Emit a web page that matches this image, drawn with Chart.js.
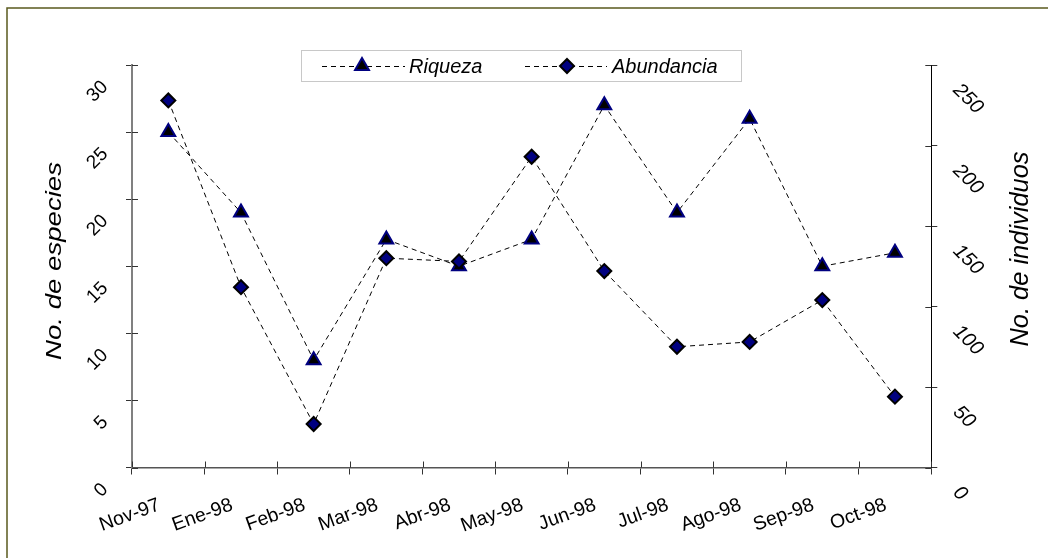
<!DOCTYPE html>
<html>
<head>
<meta charset="utf-8">
<title>Riqueza y abundancia</title>
<script src="https://cdn.jsdelivr.net/npm/chart.js@4/dist/chart.umd.min.js"></script>
<style>
  html, body { margin: 0; padding: 0; background: #fff; }
  canvas { display: block; }
</style>
</head>
<body>
<canvas id="miGrafica" width="1048" height="558"></canvas>
<script>
"use strict";

// datos
const categorias = ['Nov-97', 'Ene-98', 'Feb-98', 'Mar-98', 'Abr-98', 'May-98', 'Jun-98', 'Jul-98', 'Ago-98', 'Sep-98', 'Oct-98'];
const riqueza = [25, 19, 8, 17, 15, 17, 27, 19, 26, 15, 16];
const abundancia = [228, 112, 27, 130, 128, 193, 122, 75, 78, 104, 44];
const ticksEspecies = [0, 5, 10, 15, 20, 25, 30];
const ticksIndividuos = [0, 50, 100, 150, 200, 250];

const fuente = "'Liberation Sans', Arial, sans-serif";
Chart.defaults.font.family = fuente;
Chart.defaults.color = '#000';

// dibuja un marcador igual que Chart.js (triangulo o rombo)
function marcador(ctx, estilo, x, y, r) {
    ctx.beginPath();
    if (estilo === 'triangle') {
        let rad = 0;
        ctx.moveTo(x + Math.sin(rad) * r, y - Math.cos(rad) * r);
        rad += 2 * Math.PI / 3;
        ctx.lineTo(x + Math.sin(rad) * r, y - Math.cos(rad) * r);
        rad += 2 * Math.PI / 3;
        ctx.lineTo(x + Math.sin(rad) * r, y - Math.cos(rad) * r);
    } else {
        ctx.moveTo(x, y - r);
        ctx.lineTo(x + r, y);
        ctx.lineTo(x, y + r);
        ctx.lineTo(x - r, y);
    }
    ctx.closePath();
    ctx.fill();
    ctx.stroke();
}

// texto rotado y estirado a lo largo (titulos de los ejes)
function tituloVertical(ctx, texto, cx, cy, tam, largo) {
    ctx.save();
    ctx.font = 'italic ' + tam + 'px ' + fuente;
    const w = ctx.measureText(texto).width;
    ctx.translate(cx, cy);
    ctx.rotate(-Math.PI / 2);
    ctx.scale(largo / w, 1);
    ctx.textAlign = 'center';
    ctx.textBaseline = 'middle';
    ctx.fillStyle = '#000';
    ctx.fillText(texto, 0, 0);
    ctx.restore();
}

const extras = {
    id: 'extras',
    beforeDraw(chart) {
        const ctx = chart.ctx;
        ctx.save();
        ctx.fillStyle = '#fff';
        ctx.fillRect(0, 0, chart.width, chart.height);
        // marco exterior
        ctx.strokeStyle = '#5a5a1e';
        ctx.lineWidth = 1.5;
        ctx.beginPath();
        ctx.moveTo(7, chart.height);
        ctx.lineTo(7, 8);
        ctx.lineTo(chart.width, 8);
        ctx.stroke();
        ctx.restore();
    },
    afterDraw(chart) {
        const ctx = chart.ctx;
        const area = chart.chartArea;
        const sx = chart.scales.x, sy = chart.scales.y, sy1 = chart.scales.y1;
        ctx.save();
        // parte interior de las marcas de los ejes
        ctx.strokeStyle = '#333';
        ctx.lineWidth = 1;
        ctx.beginPath();
        sy.ticks.forEach(t => {
            const p = Math.round(sy.getPixelForValue(t.value)) + 0.5;
            ctx.moveTo(area.left, p); ctx.lineTo(area.left + 6, p);
        });
        sy1.ticks.forEach(t => {
            const p = Math.round(sy1.getPixelForValue(t.value)) + 0.5;
            ctx.moveTo(area.right - 6, p); ctx.lineTo(area.right, p);
        });
        const medio = (sx.getPixelForValue(1) - sx.getPixelForValue(0)) / 2;
        for (let i = 0; i <= categorias.length; i++) {
            const p = Math.round(i < categorias.length ? sx.getPixelForValue(i) - medio : sx.getPixelForValue(i - 1) + medio) + 0.5;
            ctx.moveTo(p, area.bottom - 6); ctx.lineTo(p, area.bottom);
        }
        ctx.stroke();

        // leyenda con recuadro
        ctx.strokeStyle = '#c8c8c8';
        ctx.strokeRect(301.5, 50.5, 440, 31);
        const items = [
            { ds: chart.data.datasets[1], x0: 322, x1: 405, xm: 362, xt: 409 },
            { ds: chart.data.datasets[0], x0: 525, x1: 607, xm: 567, xt: 612 }
        ];
        items.forEach(it => {
            ctx.strokeStyle = it.ds.borderColor;
            ctx.lineWidth = 1;
            ctx.setLineDash(it.ds.borderDash);
            ctx.beginPath();
            ctx.moveTo(it.x0, 66.5); ctx.lineTo(it.x1, 66.5);
            ctx.stroke();
            ctx.setLineDash([]);
            ctx.fillStyle = it.ds.pointBackgroundColor;
            ctx.strokeStyle = it.ds.pointBorderColor;
            ctx.lineWidth = it.ds.pointBorderWidth;
            marcador(ctx, it.ds.pointStyle, it.xm, 66, it.ds.pointRadius);
            ctx.fillStyle = '#000';
            ctx.font = 'italic 20px ' + fuente;
            ctx.textBaseline = 'alphabetic';
            ctx.fillText(it.ds.label, it.xt, 73);
        });
        ctx.restore();

        // titulos de los ejes
        tituloVertical(ctx, 'No. de especies', 55, 261, 22, 198);
        tituloVertical(ctx, 'No. de individuos', 1021, 249, 26, 195);
    }
};

const ctx = document.getElementById('miGrafica');
const chart = new Chart(ctx, {
    type: 'line',
    data: {
        labels: categorias,
        datasets: [{
            label: 'Abundancia',
            data: abundancia,
            yAxisID: 'y1',
            order: 0,
            borderColor: '#000',
            borderWidth: 1,
            borderDash: [5, 4],
            pointStyle: 'rectRot',
            pointRadius: 7,
            pointBackgroundColor: '#000080',
            pointBorderColor: '#000',
            pointBorderWidth: 2,
            tension: 0
        }, {
            label: 'Riqueza',
            data: riqueza,
            yAxisID: 'y',
            order: 1,
            borderColor: '#000',
            borderWidth: 1,
            borderDash: [5, 4],
            pointStyle: 'triangle',
            pointRadius: 8,
            pointBackgroundColor: '#000',
            pointBorderColor: '#000080',
            pointBorderWidth: 2,
            tension: 0
        }]
    },
    options: {
        responsive: false,
        animation: false,
        events: [],
        layout: { padding: { top: 65, left: 0, right: 0, bottom: 0 } },
        plugins: {
            legend: { display: false },
            tooltip: { enabled: false }
        },
        scales: {
            x: {
                type: 'category',
                offset: true,
                grid: { offset: true, drawOnChartArea: false, tickLength: 7, color: '#333' },
                border: { color: '#555', width: 1.5 },
                ticks: {
                    autoSkip: false,
                    minRotation: 20,
                    maxRotation: 20,
                    labelOffset: -9,
                    padding: 19,
                    font: { size: 19.5 }
                },
                afterFit: s => { s.height = 90.5; }
            },
            y: {
                position: 'left',
                min: 0,
                max: 30,
                afterBuildTicks: s => { s.ticks = ticksEspecies.map(v => ({ value: v })); },
                grid: { drawOnChartArea: false, tickLength: 6, color: '#333' },
                border: { color: '#808080', width: 2 },
                ticks: {
                    minRotation: 45,
                    maxRotation: 50,
                    padding: 21,
                    labelOffset: 19,
                    font: { size: 19 }
                },
                afterFit: s => { s.width = 132; }
            },
            y1: {
                position: 'right',
                min: 0,
                max: 250,
                afterBuildTicks: s => { s.ticks = ticksIndividuos.map(v => ({ value: v })); },
                grid: { drawOnChartArea: false, tickLength: 6, color: '#333' },
                border: { color: '#000', width: 1 },
                ticks: {
                    minRotation: -45,
                    maxRotation: 50,
                    padding: 19,
                    labelOffset: 22,
                    font: { size: 20, style: 'italic' }
                },
                afterFit: s => { s.width = 116.7; }
            }
        }
    },
    plugins: [extras]
});
</script>
</body>
</html>
